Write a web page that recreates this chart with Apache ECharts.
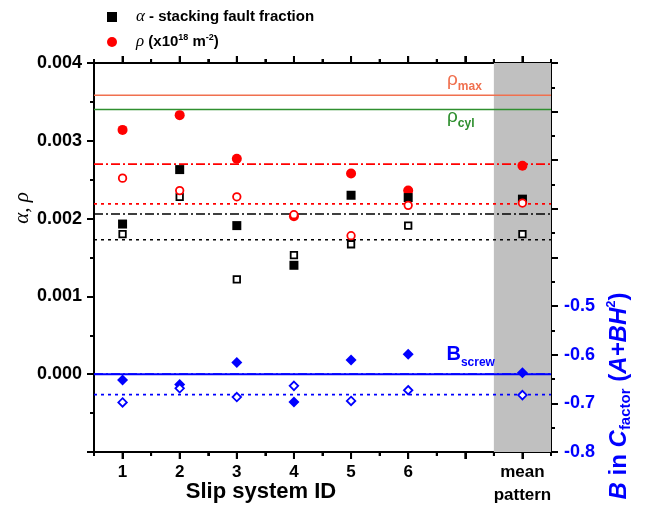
<!DOCTYPE html>
<html>
<head>
<meta charset="utf-8">
<script src="https://cdn.jsdelivr.net/npm/echarts@6/dist/echarts.min.js"></script>
<style>
  html, body { margin: 0; padding: 0; background: #ffffff; }
  #chart { width: 646px; height: 510px; }
</style>
</head>
<body>
<div id="chart"></div>
<script>
// Slip systems 1-6 plus the mean pattern (drawn at position 8)
const slipPos = [1, 2, 3, 4, 5, 6, 8];
// Tick labels for integer positions 1..8
const tickLabels = ['1', '2', '3', '4', '5', '6', '', 'mean\npattern'];
const majorTicks = [1, 2, 3, 4, 5, 6, 7, 8];
const minorTicks = [1.5, 2.5, 3.5, 4.5, 5.5, 6.5, 7.5];
const meanBand = [7.5, 8.5];
const xRange = [0.5, 8.5];
const labelRange = [1, 8];
const leftRange = [-0.001, 0.004];
const rightRange = [-0.8, 0];

// Stacking fault fraction alpha (filled / open squares)
const alphaFilled = [0.00193, 0.00263, 0.00191, 0.00140, 0.00230, 0.00227, 0.00225];
const alphaOpen   = [0.00180, 0.00228, 0.00122, 0.00153, 0.00167, 0.00191, 0.00180];
// Dislocation density rho, x10^18 m^-2 (filled / open circles)
const rhoFilled = [0.00314, 0.00333, 0.00277, 0.00203, 0.00258, 0.00236, 0.00268];
const rhoOpen   = [0.00252, 0.00236, 0.00228, 0.00205, 0.00178, 0.00217, 0.00220];
// B parameter of the contrast factor (filled / open diamonds, right axis)
const bFilled = [-0.652, -0.661, -0.616, -0.697, -0.611, -0.599, -0.637];
const bOpen   = [-0.698, -0.669, -0.687, -0.664, -0.695, -0.673, -0.683];

// Horizontal reference levels
const rhoMax = 0.003585;
const rhoCyl = 0.003402;
const rhoFilledMean = 0.00270;
const rhoOpenMean = 0.00219;
const alphaFilledMean = 0.00206;
const alphaOpenMean = 0.001729;
const bScrew = -0.640;
const bFilledMean = -0.640;
const bOpenMean = -0.682;

const BLUE = '#0000ff';
const RED = '#ff0000';
const ORANGE = '#f0704f';
const GREEN = '#2f8f2f';
const FONT = '"Liberation Sans", Arial, sans-serif';

const pts = (vals) => vals.map((v, i) => [slipPos[i], v]);
const hline = (v) => [[xRange[0], v], [xRange[1], v]];

const chart = echarts.init(document.getElementById('chart'), null, { renderer: 'canvas' });

// Plot frame in pixels; the second grid is inset by half a unit on each side
// so that its integer positions line up with positions 1..8 of the main grid.
const plotLeft = 94, plotRight = 95, plotTop = 63, plotBottom = 58;
const unitPx = (646 - plotLeft - plotRight) / (xRange[1] - xRange[0]);
const inset = (labelRange[0] - xRange[0]) * unitPx;
const tickLine = () => ({ width: 2, color: '#000' });

function refLine(name, value, color, width, type, yAxisIndex) {
  return {
    name: name, type: 'line', xAxisIndex: 0, yAxisIndex: yAxisIndex || 0,
    data: hline(value), symbol: 'none', silent: true, animation: false,
    lineStyle: { color: color, width: width, type: type }, z: 2
  };
}

function scatter(name, vals, symbol, size, filled, color, yAxisIndex, z) {
  return {
    name: name, type: 'scatter', xAxisIndex: 0, yAxisIndex: yAxisIndex || 0,
    data: pts(vals), symbol: symbol, symbolSize: size, animation: false, z: z,
    itemStyle: filled
      ? { color: color, borderWidth: 0, opacity: 1 }
      : { color: '#ffffff', borderColor: color, borderWidth: 1.8, opacity: 1 }
  };
}

// Outward tick marks on the bottom and top frame edges at the given x positions
function frameTicks(name, positions, len) {
  return {
    name: name, type: 'custom', xAxisIndex: 0, yAxisIndex: 0, clip: false, silent: true,
    animation: false, z: 20,
    data: positions.map((x) => [x, leftRange[0]]),
    renderItem: (params, api) => {
      const x = api.value(0);
      const b = api.coord([x, leftRange[0]]);
      const t = api.coord([x, leftRange[1]]);
      const st = { stroke: '#000', lineWidth: 2 };
      return {
        type: 'group',
        children: [
          { type: 'line', shape: { x1: b[0], y1: b[1], x2: b[0], y2: b[1] + len }, style: st },
          { type: 'line', shape: { x1: t[0], y1: t[1], x2: t[0], y2: t[1] - len }, style: st }
        ]
      };
    }
  };
}

function minorXAxis(position) {
  return {
    gridIndex: 0, type: 'value', position: position, min: xRange[0], max: xRange[1], interval: 0.5,
    axisLine: { show: true, onZero: false, lineStyle: { color: '#000', width: 2 } },
    axisTick: { show: true, length: 4, lineStyle: tickLine() },
    axisLabel: { show: true, formatter: () => '' },
    splitLine: { show: false }
  };
}

function majorXAxis(position, withLabels) {
  return {
    gridIndex: 1, type: 'value', position: position, min: labelRange[0], max: labelRange[1], interval: 1,
    // the line itself is invisible; the main grid draws the frame
    axisLine: { show: true, onZero: false, lineStyle: { color: 'rgba(0,0,0,0)', width: 1 } },
    axisTick: { show: true, length: 7, lineStyle: tickLine() },
    axisLabel: {
      show: true, margin: 9, fontFamily: FONT, fontWeight: 'bold', fontSize: 17, color: '#000', lineHeight: 23,
      formatter: withLabels ? ((v) => tickLabels[Math.round(v) - 1] || '') : (() => '')
    },
    splitLine: { show: false }
  };
}

const option = {
  backgroundColor: '#ffffff',
  animation: false,
  grid: [
    { left: plotLeft, right: plotRight, top: plotTop, bottom: plotBottom },
    { left: plotLeft + inset, right: plotRight + inset, top: plotTop, bottom: plotBottom }
  ],
  legend: {
    orient: 'vertical', left: 102, top: 3, itemWidth: 10, itemHeight: 10, itemGap: 7,
    selectedMode: false,
    data: [{ name: 'alpha', icon: 'rect' }, { name: 'rho', icon: 'circle' }],
    formatter: (n) => n === 'alpha'
      ? '{g|α} - stacking fault fraction'
      : '{g|ρ} (x10{sup|18} m{sup|-2})',
    textStyle: {
      fontFamily: FONT, fontWeight: 'bold', fontSize: 15, color: '#000',
      padding: [0, 0, 0, 14], lineHeight: 18,
      rich: {
        g: { fontFamily: '"Liberation Serif", serif', fontStyle: 'italic', fontWeight: 'normal', fontSize: 17, lineHeight: 18 },
        sup: { fontFamily: FONT, fontWeight: 'bold', fontSize: 9, verticalAlign: 'top', lineHeight: 18 }
      }
    }
  },
  xAxis: [
    minorXAxis('bottom'),
    minorXAxis('top'),
    majorXAxis('bottom', true),
    majorXAxis('top', false)
  ],
  yAxis: [
    {
      gridIndex: 0, type: 'value', position: 'left', min: leftRange[0], max: leftRange[1], interval: 0.001,
      axisLine: { show: true, onZero: false, lineStyle: { color: '#000', width: 2 } },
      axisTick: { show: true, length: 7, lineStyle: tickLine() },
      minorTick: { show: true, splitNumber: 2, length: 4, lineStyle: tickLine() },
      axisLabel: {
        margin: 12, fontFamily: FONT, fontWeight: 'bold', fontSize: 18, color: '#000',
        formatter: (v) => v < -0.0005 ? '' : v.toFixed(3)
      },
      splitLine: { show: false }
    },
    {
      gridIndex: 0, type: 'value', position: 'right', min: rightRange[0], max: rightRange[1], interval: 0.1,
      axisLine: { show: true, onZero: false, lineStyle: { color: '#000', width: 2 } },
      axisTick: { show: true, length: 7, lineStyle: tickLine() },
      minorTick: { show: true, splitNumber: 2, length: 4, lineStyle: tickLine() },
      axisLabel: {
        margin: 13, fontFamily: FONT, fontWeight: 'bold', fontSize: 18, color: BLUE,
        formatter: (v) => v <= -0.45 ? v.toFixed(1) : ''
      },
      splitLine: { show: false }
    },
    {
      gridIndex: 1, type: 'value', min: 0, max: 1,
      axisLine: { show: false, onZero: false }, axisTick: { show: false },
      axisLabel: { show: false }, splitLine: { show: false }
    }
  ],
  series: [
    {
      name: 'band', type: 'line', xAxisIndex: 0, yAxisIndex: 0, data: [], silent: true, z: 1,
      markArea: {
        silent: true, itemStyle: { color: '#c0c0c0' },
        data: [[{ xAxis: meanBand[0] }, { xAxis: meanBand[1] }]]
      }
    },
    frameTicks('majorTicks', majorTicks, 7),
    frameTicks('minorTicks', minorTicks, 4),
    refLine('rhoMax', rhoMax, ORANGE, 1.5, 'solid'),
    refLine('rhoCyl', rhoCyl, GREEN, 1.5, 'solid'),
    refLine('rhoFilledMean', rhoFilledMean, RED, 1.8, [9, 3, 2, 3]),
    refLine('rhoOpenMean', rhoOpenMean, RED, 1.8, [3, 4]),
    refLine('alphaFilledMean', alphaFilledMean, '#000', 1.5, [9, 3, 2, 3]),
    refLine('alphaOpenMean', alphaOpenMean, '#000', 1.5, [3, 4]),
    refLine('bScrew', bScrew, BLUE, 2, 'solid', 1),
    refLine('bFilledMean', bFilledMean, BLUE, 1.8, [9, 3, 2, 3], 1),
    refLine('bOpenMean', bOpenMean, BLUE, 1.8, [3, 4], 1),
    scatter('rho', rhoFilled, 'circle', 10, true, RED, 0, 10),
    scatter('alpha', alphaFilled, 'rect', 9, true, '#000', 0, 11),
    scatter('alphaOpen', alphaOpen, 'rect', 6.5, false, '#000', 0, 12),
    scatter('rhoOpen', rhoOpen, 'circle', 7.5, false, RED, 0, 13),
    scatter('bFilled', bFilled, 'diamond', 11, true, BLUE, 1, 14),
    scatter('bOpen', bOpen, 'diamond', 8.5, false, BLUE, 1, 15)
  ]
};

chart.setOption(option);

// Annotations anchored to data coordinates
const px = (x, y, yAxisIndex) => chart.convertToPixel({ xAxisIndex: 0, yAxisIndex: yAxisIndex || 0 }, [x, y]);
const pMax = px(6.68, rhoMax);
const pCyl = px(6.68, rhoCyl);
const pScrew = px(6.67, bScrew, 1);

chart.setOption({
  graphic: [
    {
      type: 'text', x: pMax[0], y: pMax[1] - 3, z: 50,
      style: {
        text: '{r|ρ}{s|max}', align: 'left', verticalAlign: 'bottom', fill: ORANGE,
        rich: {
          r: { fontFamily: FONT, fontSize: 19, fill: ORANGE, lineHeight: 22, verticalAlign: 'top' },
          s: { fontFamily: FONT, fontSize: 12, fontWeight: 'bold', fill: ORANGE, lineHeight: 22, verticalAlign: 'bottom' }
        }
      }
    },
    {
      type: 'text', x: pCyl[0], y: pCyl[1] - 2, z: 50,
      style: {
        text: '{r|ρ}{s|cyl}', align: 'left', verticalAlign: 'top', fill: GREEN,
        rich: {
          r: { fontFamily: FONT, fontSize: 19, fill: GREEN, lineHeight: 22, verticalAlign: 'top' },
          s: { fontFamily: FONT, fontSize: 12, fontWeight: 'bold', fill: GREEN, lineHeight: 22, verticalAlign: 'bottom' }
        }
      }
    },
    {
      type: 'text', x: pScrew[0], y: pScrew[1] - 6, z: 50,
      style: {
        text: '{r|B}{s|screw}', align: 'left', verticalAlign: 'bottom', fill: BLUE,
        rich: {
          r: { fontFamily: FONT, fontSize: 20, fontWeight: 'bold', fill: BLUE, lineHeight: 24, verticalAlign: 'top' },
          s: { fontFamily: FONT, fontSize: 12, fontWeight: 'bold', fill: BLUE, lineHeight: 24, verticalAlign: 'bottom' }
        }
      }
    },
    {
      // left axis title
      type: 'text', x: 22, y: 208, rotation: Math.PI / 2, z: 50,
      style: {
        text: 'α, ρ', align: 'center', verticalAlign: 'middle', fill: '#000',
        font: 'italic 21px "Liberation Serif", serif'
      }
    },
    {
      // bottom axis title
      type: 'text', x: 261, y: 492, z: 50,
      style: {
        text: 'Slip system ID', align: 'center', verticalAlign: 'middle', fill: '#000',
        font: 'bold 22px "Liberation Sans", Arial, sans-serif'
      }
    },
    {
      // right axis title
      type: 'text', x: 619, y: 396, rotation: Math.PI / 2, z: 50,
      style: {
        text: '{i|B}{n| in }{i|C}{sub|factor}{n| (}{i|A+BH}{sup|2}{n|)}',
        align: 'center', verticalAlign: 'middle', fill: BLUE,
        rich: {
          i: { fontFamily: FONT, fontSize: 24, fontWeight: 'bold', fontStyle: 'italic', fill: BLUE, lineHeight: 28 },
          n: { fontFamily: FONT, fontSize: 24, fontWeight: 'bold', fill: BLUE, lineHeight: 28 },
          sub: { fontFamily: FONT, fontSize: 15, fontWeight: 'bold', fill: BLUE, lineHeight: 28, verticalAlign: 'bottom' },
          sup: { fontFamily: FONT, fontSize: 13, fontWeight: 'bold', fill: BLUE, lineHeight: 28, verticalAlign: 'top' }
        }
      }
    }
  ]
});
</script>
</body>
</html>
